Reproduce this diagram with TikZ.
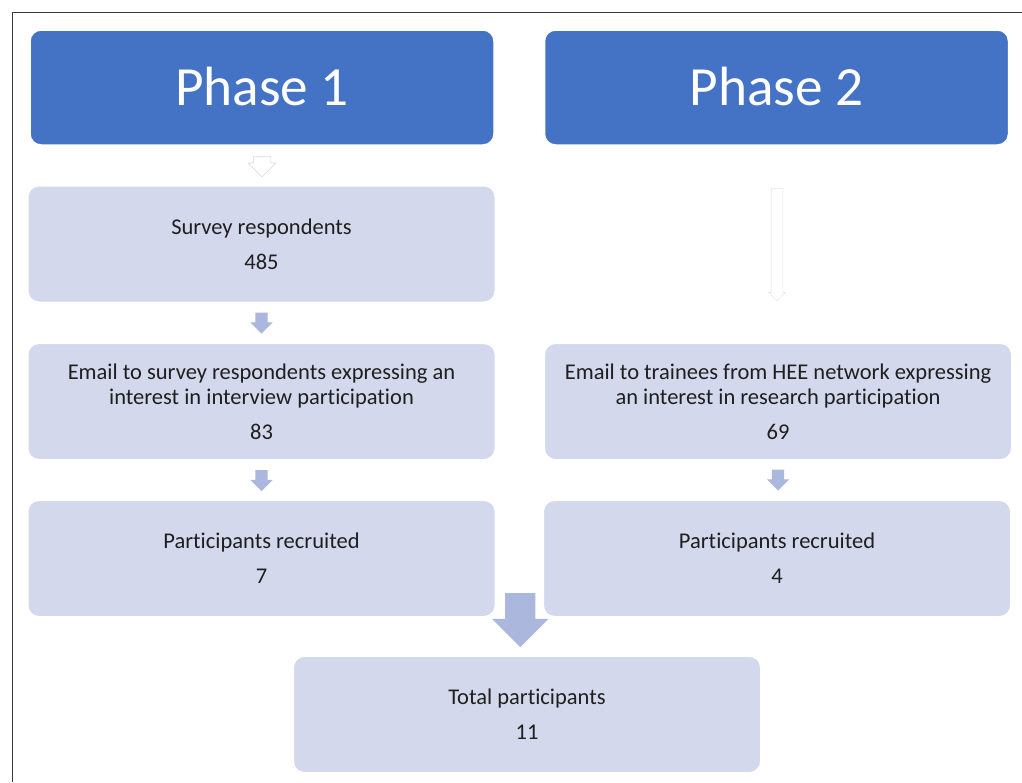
\documentclass[tikz,border=0pt]{standalone}
\usepackage{fontspec}
\setmainfont{Carlito}[Ligatures={NoCommon}]
\usetikzlibrary{shapes.arrows,calc}
\definecolor{phaseblue}{HTML}{4472C4}
\definecolor{boxfill}{HTML}{D4D8EC}
\definecolor{arrowfill}{HTML}{ABB7DD}
\definecolor{framegray}{HTML}{3A3A3A}
\begin{document}
\begin{tikzpicture}[x=1pt,y=-1pt,
  phasebox/.style={draw=white, line width=1.5pt, fill=phaseblue, rounded corners=11pt,
    text=white, font=\fontsize{55.3}{60}\selectfont, minimum width=464pt,
    minimum height=115pt, inner sep=0pt},
  stagebox/.style={draw=white, line width=1pt, fill=boxfill, rounded corners=11pt,
    font=\fontsize{22.5}{25}\selectfont, align=center, minimum width=467pt,
    minimum height=116pt, inner sep=0pt, text=black!88},
  downarrow/.style={single arrow, shape border rotate=270, anchor=tail,
    inner ysep=0pt, outer sep=0pt},
  smallarrow/.style={downarrow, fill=arrowfill, inner xsep=6pt,
    single arrow head extend=5pt, minimum height=21pt},
]
\useasboundingbox (0,0) rectangle (1022,782);
% frame lines on the left and top
\draw[framegray, line width=1.3pt] (12.5,782) -- (12.5,12.5) -- (1022,12.5);

% phase headers
\node[phasebox] (ph1) at (262,87.5) {\raisebox{2pt}{Phase 1}};
\node[phasebox] (ph2) at (776.5,87.5) {\raisebox{2pt}{Phase 2}};

% stage boxes
\node[stagebox] (s1) at (261.5,244) {Survey respondents\\[10pt]485};
\node[stagebox] (e1) at (261.5,401.5) {Email to survey respondents expressing an\\interest in interview participation\\[10pt]83};
\node[stagebox] (p1) at (261.5,558.5) {Participants recruited\\[10pt]7};
\node[stagebox] (e2) at (778,401.5) {Email to trainees from HEE network expressing\\an interest in research participation\\[10pt]69};
\node[stagebox] (p2) at (777,558.5) {Participants recruited\\[10pt]4};
\node[stagebox] (tot) at (527,714.5) {Total participants\\[10pt]11};

% block arrows between the stages
\node[downarrow, draw=gray!30, line width=0.6pt, fill=white, inner xsep=8.5pt,
  single arrow head extend=5pt, minimum height=20pt] (a0) at ($(ph1.south)+(0,11)$) {};
\node[downarrow, draw=gray!18, line width=0.6pt, fill=white, inner xsep=5.5pt,
  single arrow head extend=2.5pt, minimum height=112pt] (b0) at ($(ph2.south)+(0.5,43)$) {};
\node[smallarrow] (a1) at ($(s1.south)+(0,10)$) {};
\node[smallarrow] (a2) at ($(e1.south)+(0,10)$) {};
\node[smallarrow] (b1) at ($(e2.south)+(0,9.5)$) {};
\node[downarrow, fill=arrowfill, inner xsep=15pt, single arrow head extend=13pt,
  minimum height=54pt] (c1) at ($($(p1.south east)!0.5!(p2.south west)$)+(1,-24)$) {};
\end{tikzpicture}
\end{document}
